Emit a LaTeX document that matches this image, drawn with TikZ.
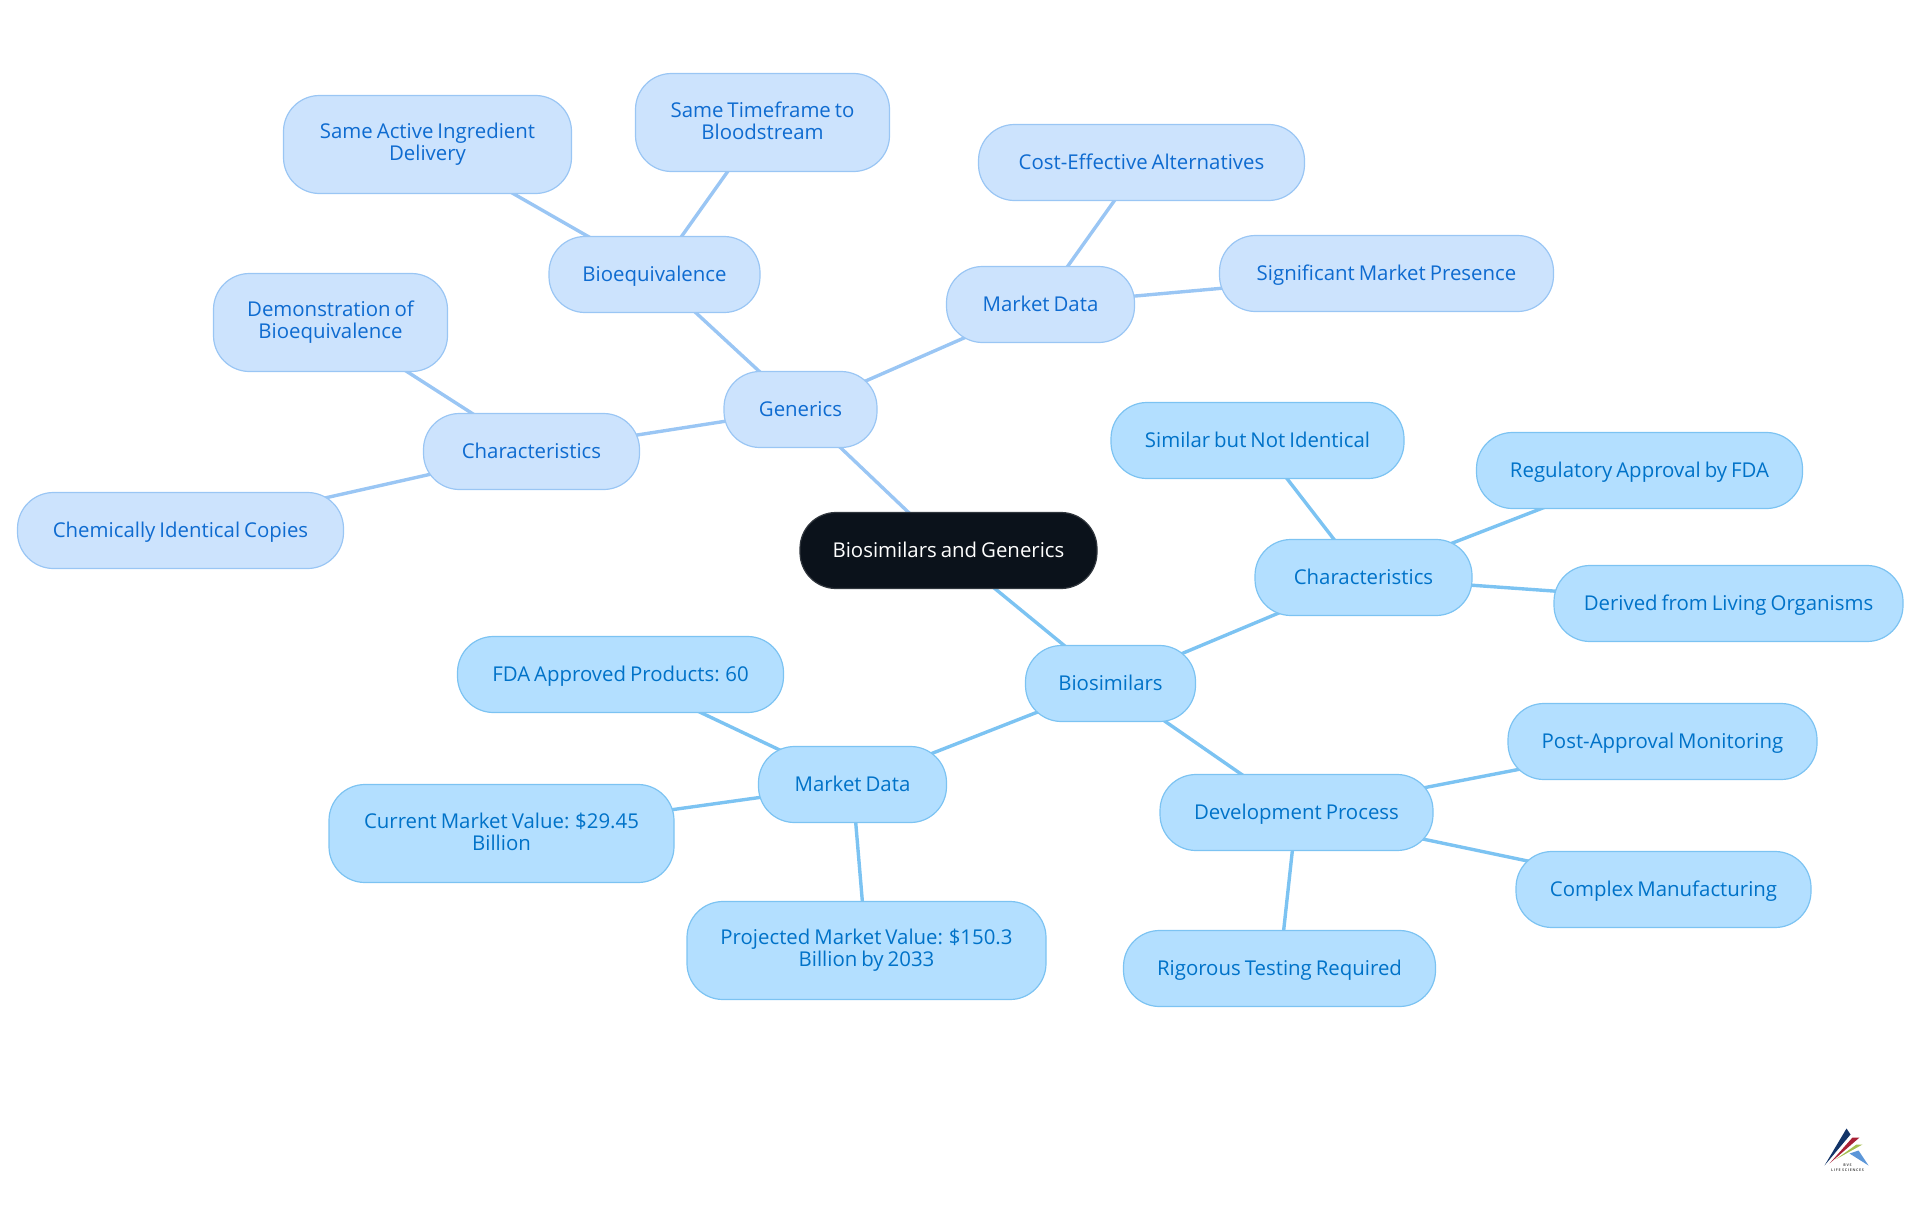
\documentclass[tikz,border=0pt]{standalone}
\usepackage{fontspec}
\setmainfont{Open Sans}[WordSpace=0.75]
\usetikzlibrary{backgrounds}
\definecolor{rootfill}{HTML}{0B121B}
\definecolor{genfill}{HTML}{CCE3FD}
\definecolor{genline}{HTML}{9AC6F4}
\definecolor{gentext}{HTML}{0E6BD0}
\definecolor{biofill}{HTML}{B3DFFF}
\definecolor{bioline}{HTML}{7CC3F2}
\definecolor{biotext}{HTML}{0072C8}
\definecolor{logonavy}{HTML}{123468}
\definecolor{logored}{HTML}{A82036}
\definecolor{logogreen}{HTML}{A5BE50}
\definecolor{logoblue}{HTML}{5C96D8}
\tikzset{
	mapnode/.style={draw, line width=1.2pt, rounded corners=36pt, align=center, inner sep=0pt, minimum height=76pt,
		font=\fontsize{20.4}{22}\selectfont,
		execute at begin node={\rule{0pt}{18.5pt}}, execute at end node={\rule[-4pt]{0pt}{4pt}}},
	twoline/.style={minimum height=98pt, execute at begin node={\rule{0pt}{20.5pt}}},
	rootnode/.style={mapnode, fill=rootfill, draw=rootfill!85!white, text=white},
	gennode/.style={mapnode, fill=genfill, draw=genline, text=gentext},
	bionode/.style={mapnode, fill=biofill, draw=bioline, text=biotext},
	genedge/.style={draw=genline, line width=3.4pt},
	bioedge/.style={draw=bioline, line width=3.4pt},
}
\begin{document}
\begin{tikzpicture}[x=1pt, y=-1pt]
	\useasboundingbox (-0.5,-0.5) rectangle (1919.5,1214.5);
	% root
	\node[rootnode, minimum width=297pt] (root) at (948,550) {Biosimilars and Generics};
	% generics side
	\node[gennode, minimum width=153pt] (gen) at (800,409) {Generics};
	\node[gennode, minimum width=216pt] (genchar) at (531,451) {Characteristics};
	\node[gennode, minimum width=211pt] (genbio) at (654,274) {Bioequivalence};
	\node[gennode, minimum width=188pt] (genmkt) at (1040,304) {Market Data};
	\node[gennode, twoline, minimum width=234pt] (demo) at (330,322) {Demonstration of\\Bioequivalence};
	\node[gennode, minimum width=326pt] (chem) at (180,530) {Chemically Identical Copies};
	\node[gennode, twoline, minimum width=288pt] (active) at (427,144) {Same Active Ingredient\\Delivery};
	\node[gennode, twoline, minimum width=254pt] (time) at (762,122) {Same Timeframe to\\Bloodstream};
	\node[gennode, minimum width=326pt] (cost) at (1141,162) {Cost-Effective Alternatives};
	\node[gennode, minimum width=334pt] (sig) at (1386,273) {Significant Market Presence};
	% biosimilars side
	\node[bionode, minimum width=170pt] (bio) at (1110,683) {Biosimilars};
	\node[bionode, minimum width=217pt] (biochar) at (1363,577) {Characteristics};
	\node[bionode, minimum width=293pt] (similar) at (1257,440) {Similar but Not Identical};
	\node[bionode, minimum width=326pt] (fda) at (1639,470) {Regulatory Approval by FDA};
	\node[bionode, minimum width=349pt] (living) at (1728,603) {Derived from Living Organisms};
	\node[bionode, minimum width=273pt] (dev) at (1296,812) {Development Process};
	\node[bionode, minimum width=309pt] (post) at (1662,741) {Post-Approval Monitoring};
	\node[bionode, minimum width=295pt] (cplx) at (1663,889) {Complex Manufacturing};
	\node[bionode, minimum width=312pt] (test) at (1279,968) {Rigorous Testing Required};
	\node[bionode, minimum width=188pt] (biomkt) at (852,784) {Market Data};
	\node[bionode, minimum width=326pt] (prod) at (620,674) {FDA Approved Products: 60};
	\node[bionode, twoline, minimum width=345pt] (cur) at (501,833) {Current Market Value: \$29.45\\Billion};
	\node[bionode, twoline, minimum width=359pt] (proj) at (866,950) {Projected Market Value: \$150.3\\Billion by 2033};
	% connectors under the nodes
	\begin{scope}[on background layer]
		\path[genedge]
		(root.center) edge (gen.center)
		(gen.center) edge (genchar.center)
		edge (genbio.center)
		edge (genmkt.center)
		(genchar.center) edge (demo.center)
		edge (chem.center)
		(genbio.center) edge (active.center)
		edge (time.center)
		(genmkt.center) edge (cost.center)
		edge (sig.center);
		\path[bioedge]
		(root.center) edge (bio.center)
		(bio.center) edge (biochar.center)
		edge (dev.center)
		edge (biomkt.center)
		(biochar.center) edge (similar.center)
		edge (fda.center)
		edge (living.center)
		(dev.center) edge (post.center)
		edge (cplx.center)
		edge (test.center)
		(biomkt.center) edge (prod.center)
		edge (cur.center)
		edge (proj.center);
	\end{scope}
	% logo
	\fill[logonavy] (1824,1165) -- (1846,1128) -- (1850,1134) -- cycle;
	\fill[logored] (1829,1163) -- (1852,1137) -- (1859,1137) -- cycle;
	\fill[logogreen] (1835,1159) -- (1856,1144) -- (1862,1144) -- cycle;
	\fill[logoblue] (1849,1153) -- (1858,1150) -- (1868,1165) -- cycle;
	\node[text=black!70, font=\fontsize{3.6}{5}\selectfont\bfseries, align=center, inner sep=0pt] (logotext) at (1847,1167) {B V S\\L I F E\; S C I E N C E S};
\end{tikzpicture}
\end{document}
